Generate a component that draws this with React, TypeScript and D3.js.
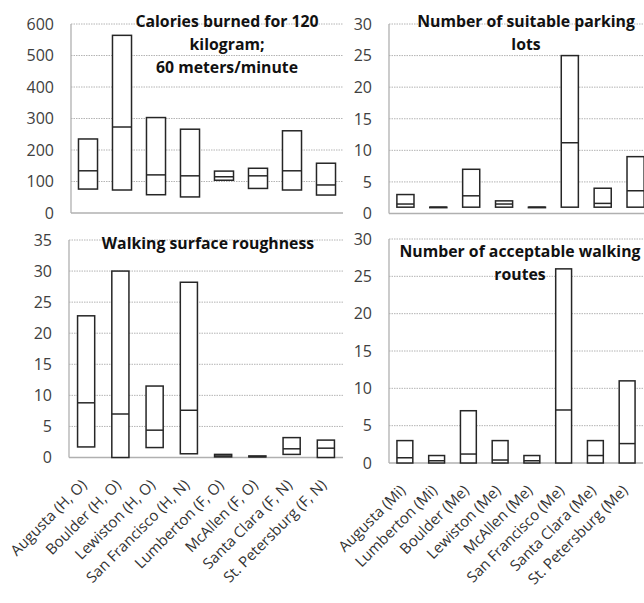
import React, { useEffect, useRef } from 'react';
import * as d3 from 'd3';

// categories
const citiesSurface = [
  'Augusta (H, O)', 'Boulder (H, O)', 'Lewiston (H, O)', 'San Francisco (H, N)',
  'Lumberton (F, O)', 'McAllen (F, O)', 'Santa Clara (F, N)', 'St. Petersburg (F, N)',
];
const citiesRoutes = [
  'Augusta (Mi)', 'Lumberton (Mi)', 'Boulder (Me)', 'Lewiston (Me)',
  'McAllen (Me)', 'San Francisco (Me)', 'Santa Clara (Me)', 'St. Petersburg (Me)',
];

// calories burned (min / median / max)
const caloriesMin = [76, 73, 58, 51, 104, 78, 73, 57];
const caloriesMed = [134, 273, 121, 118, 115, 118, 134, 89];
const caloriesMax = [235, 564, 303, 266, 133, 142, 261, 158];

// parking lots
const parkingMin = [1, 1, 1, 1, 1, 1, 1, 1];
const parkingMed = [1.5, 1, 2.8, 1.5, 1, 11.2, 1.6, 3.6];
const parkingMax = [3, 1, 7, 2, 1, 25, 4, 9];

// walking surface roughness
const roughMin = [1.7, 0, 1.6, 0.6, 0.1, 0.1, 0.5, 0];
const roughMed = [8.8, 7, 4.4, 7.6, 0.25, 0.15, 1.4, 1.5];
const roughMax = [22.8, 30, 11.5, 28.2, 0.5, 0.25, 3.2, 2.8];

// walking routes
const routesMin = [0, 0, 0, 0, 0, 0, 0, 0];
const routesMed = [0.7, 0.3, 1.2, 0.4, 0.3, 7.1, 1, 2.6];
const routesMax = [3, 1, 7, 3, 1, 26, 3, 11];

// y tick values
const ticksCalories = [0, 100, 200, 300, 400, 500, 600];
const ticksParking = [0, 5, 10, 15, 20, 25, 30];
const ticksRough = [0, 5, 10, 15, 20, 25, 30, 35];
const ticksRoutes = [0, 5, 10, 15, 20, 25, 30];

const titleCalories = ['Calories burned for 120', 'kilogram;', '60 meters/minute'];
const titleParking = ['Number of suitable parking', 'lots'];
const titleRough = ['Walking surface roughness'];
const titleRoutes = ['Number of acceptable walking', 'routes'];

const FONT = '"Open Sans", sans-serif';

const App = () => {
  const svgRef = useRef<SVGSVGElement>(null);

  useEffect(() => {
    const svg = d3.select(svgRef.current);
    svg.selectAll('*').remove();

    const panels = [
      { cats: citiesSurface, lo: caloriesMin, md: caloriesMed, hi: caloriesMax, ticks: ticksCalories,
        x0: 71, x1: 343, y0: 213, y1: 24, barFrac: 0.56, title: titleCalories, tx: 227, ty: 27, showX: false },
      { cats: citiesRoutes, lo: parkingMin, md: parkingMed, hi: parkingMax, ticks: ticksParking,
        x0: 389, x1: 652, y0: 213.5, y1: 24, barFrac: 0.52, title: titleParking, tx: 526, ty: 27, showX: false },
      { cats: citiesSurface, lo: roughMin, md: roughMed, hi: roughMax, ticks: ticksRough,
        x0: 69, x1: 343, y0: 457.5, y1: 240, barFrac: 0.5, title: titleRough, tx: 208, ty: 249, showX: true },
      { cats: citiesRoutes, lo: routesMin, md: routesMed, hi: routesMax, ticks: ticksRoutes,
        x0: 389, x1: 643, y0: 463, y1: 239, barFrac: 0.5, title: titleRoutes, tx: 520, ty: 257, showX: true },
    ];

    panels.forEach(p => {
      const g = svg.append('g');
      const x = d3.scaleBand().domain(p.cats).range([p.x0, p.x1]).padding(0);
      const y = d3.scaleLinear()
        .domain([0, p.ticks[p.ticks.length - 1]])
        .range([p.y0, p.y1]);

      // gridlines
      g.selectAll('line.grid')
        .data(p.ticks.slice(1))
        .enter().append('line')
        .attr('x1', p.x0).attr('x2', p.x1)
        .attr('y1', d => y(d)).attr('y2', d => y(d))
        .attr('stroke', '#b4b4b4')
        .attr('stroke-width', 1)
        .attr('stroke-dasharray', '1.5 1');

      // axis lines
      g.append('line')
        .attr('x1', p.x0).attr('x2', p.x0)
        .attr('y1', y(p.ticks[p.ticks.length - 1])).attr('y2', p.y0)
        .attr('stroke', '#b0b0b0').attr('stroke-width', 1.3);
      g.append('line')
        .attr('x1', p.x0).attr('x2', p.x1)
        .attr('y1', p.y0).attr('y2', p.y0)
        .attr('stroke', '#b0b0b0').attr('stroke-width', 1.3);

      // y tick labels
      g.selectAll('text.tick')
        .data(p.ticks)
        .enter().append('text')
        .attr('x', p.x0 - 17)
        .attr('y', d => y(d))
        .attr('dy', '0.36em')
        .attr('text-anchor', 'end')
        .attr('font-family', FONT)
        .attr('font-size', 16)
        .attr('fill', '#404040')
        .text(d => d);

      // boxes
      const bw = x.bandwidth() * p.barFrac;
      const rows = p.cats.map((c, i) => ({ c, lo: p.lo[i], md: p.md[i], hi: p.hi[i] }));
      const box = g.selectAll('g.box').data(rows).enter().append('g');
      box.append('rect')
        .attr('x', d => x(d.c)! + (x.bandwidth() - bw) / 2)
        .attr('y', d => y(d.hi))
        .attr('width', bw)
        .attr('height', d => Math.max(y(d.lo) - y(d.hi), 0.5))
        .attr('fill', 'white')
        .attr('stroke', '#262626')
        .attr('stroke-width', 1.5);
      box.append('line')
        .attr('x1', d => x(d.c)! + (x.bandwidth() - bw) / 2)
        .attr('x2', d => x(d.c)! + (x.bandwidth() + bw) / 2)
        .attr('y1', d => y(d.md)).attr('y2', d => y(d.md))
        .attr('stroke', '#262626')
        .attr('stroke-width', 1.5);

      // title
      g.selectAll('text.title')
        .data(p.title)
        .enter().append('text')
        .attr('x', p.tx)
        .attr('y', (d, i) => p.ty + i * 23)
        .attr('text-anchor', 'middle')
        .attr('font-family', FONT)
        .attr('font-weight', 'bold')
        .attr('font-size', 15.8)
        .attr('fill', '#111')
        .text(d => d);

      // category labels, rotated
      if (p.showX) {
        g.selectAll('text.cat')
          .data(p.cats)
          .enter().append('text')
          .attr('transform', d => `translate(${x(d)! + x.bandwidth() / 2 - 6},${p.y0 + 21}) rotate(-45)`)
          .attr('dy', '0.7em')
          .attr('text-anchor', 'end')
          .attr('font-family', FONT)
          .attr('font-size', 15)
          .attr('fill', '#333')
          .text(d => d);
      }
    });
  }, []);

  return (
    <svg ref={svgRef} width="644" height="603" style={{ position: 'absolute', left: 0, top: 0, background: 'white' }}></svg>
  );
};

export default App;
